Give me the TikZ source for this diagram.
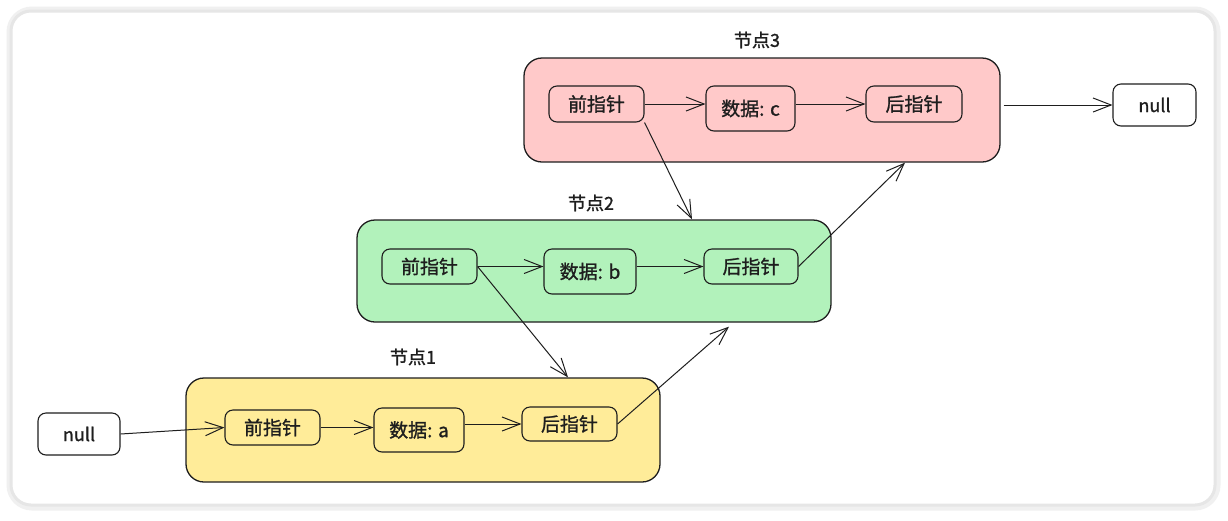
\documentclass[tikz,border=0pt]{standalone}
\usepackage{fontspec}
\setmainfont{Noto Sans CJK SC}[FakeBold=1.2]
\usetikzlibrary{arrows.meta,calc}
\definecolor{ink}{HTML}{1E1E1E}
\definecolor{pinkfill}{HTML}{FFC9C9}
\definecolor{greenfill}{HTML}{B2F2BB}
\definecolor{yellowfill}{HTML}{FFEC99}
\definecolor{framegray}{HTML}{E6E6E6}
\tikzset{
  container/.style={draw=ink, line width=1.3pt, rounded corners=18pt, inner sep=0pt},
  field/.style={draw=ink, line width=1.1pt, rounded corners=8pt, inner sep=0pt, fill=none,
    font=\fontsize{19}{22}\selectfont, text=ink},
  nullbox/.style={field, fill=white, font=\fontsize{18}{21}\selectfont},
  grouplabel/.style={font=\fontsize{18}{21}\selectfont, text=ink, inner sep=0pt},
  link/.style={draw=ink, line width=1pt, -{Straight Barb[length=18pt,width=14pt,line width=1pt]}}
}
\begin{document}
\begin{tikzpicture}[x=1pt,y=-1pt]
\useasboundingbox (0,0) rectangle (1228,520);
\fill[white] (0,0) rectangle (1228,520);
\draw[framegray!60, line width=7pt, rounded corners=22pt] (10,10) rectangle (1217,507);
\draw[framegray, line width=3pt, rounded corners=20pt, fill=white] (11,11) rectangle (1215,505);

% containers
\node[container, fill=pinkfill, minimum width=476pt, minimum height=104pt] (c3) at (762,110) {};
\node[container, fill=greenfill, minimum width=474pt, minimum height=102pt] (c2) at (594,271) {};
\node[container, fill=yellowfill, minimum width=474pt, minimum height=104pt] (c1) at (423,430) {};

% group labels
\node[grouplabel] (l3) at (757,40) {节点3};
\node[grouplabel] (l2) at (591,203) {节点2};
\node[grouplabel] (l1) at (413,357) {节点1};

% node 3 fields
\node[field, minimum width=95pt, minimum height=36pt] (p3) at (596.5,104) {前指针};
\node[field, minimum width=89pt, minimum height=45pt] (d3) at (750.5,108.5) {数据: c};
\node[field, minimum width=96pt, minimum height=36pt] (n3) at (914,104) {后指针};
\node[nullbox, minimum width=83pt, minimum height=42pt] (nullr) at (1154.5,105) {null};

% node 2 fields
\node[field, minimum width=95pt, minimum height=35pt] (p2) at (429.5,266.5) {前指针};
\node[field, minimum width=92pt, minimum height=45pt] (d2) at (590,271.5) {数据: b};
\node[field, minimum width=94pt, minimum height=35pt] (n2) at (751,266.5) {后指针};

% node 1 fields
\node[field, minimum width=95pt, minimum height=35pt] (p1) at (272.5,427.5) {前指针};
\node[field, minimum width=90pt, minimum height=44pt] (d1) at (419,430) {数据: a};
\node[field, minimum width=95pt, minimum height=34pt] (n1) at (569.5,424) {后指针};
\node[nullbox, minimum width=82pt, minimum height=42pt] (nulll) at (79,434) {null};

% connectors inside nodes
\draw[link] (p3.east) -- (d3.west |- p3.east);
\draw[link] (d3.east |- n3.east) -- (n3.west);
\draw[link] (p2.east) -- (d2.west |- p2.east);
\draw[link] (d2.east |- n2.east) -- (n2.west);
\draw[link] (p1.east) -- (d1.west |- p1.east);
\draw[link] (d1.east |- n1.east) -- (n1.west);

% external connectors
\draw[link] (nulll.east) -- (p1.west);
\draw[link] ([xshift=3pt]c3.east |- nullr.west) -- (nullr.west);
\draw[link] (p3.south east) -- ([xshift=98pt]c2.north);
\draw[link] (p2.east) -- ([xshift=145pt]c1.north);
\draw[link] (n2.east) -- ([xshift=143pt]c3.south);
\draw[link] (n1.east) -- ([xshift=135pt,yshift=-4pt]c2.south);
\end{tikzpicture}
\end{document}
